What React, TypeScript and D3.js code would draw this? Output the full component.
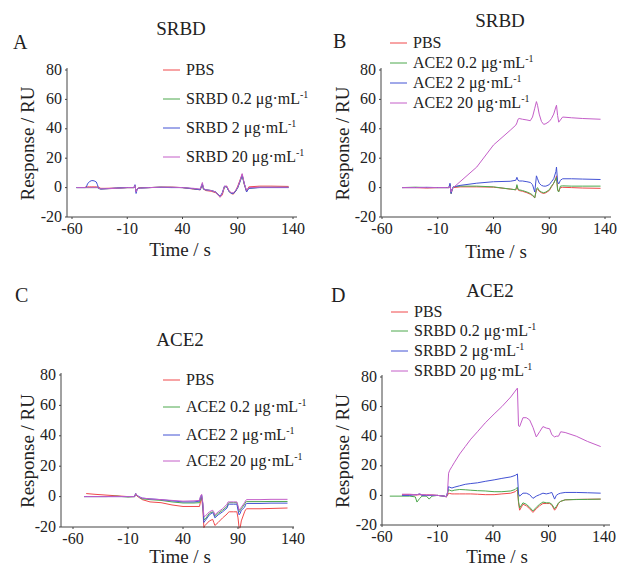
import React from 'react';
import * as d3 from 'd3';

const xTicks = [-60, -10, 40, 90, 140];
const yTicks = [-20, 0, 20, 40, 60, 80];
const colors = ['#f0484a', '#4da84d', '#4352d4', '#c45ec8'];

// A: SRBD chip, SRBD analyte
const timeA = [-56, -48, -47, -46, -44, -42, -40, -38, -37, -36, -34, -30, -20, -10, -4, -3, -2, -1, 0, 2, 10, 20, 30, 40, 50, 56, 58, 59, 61, 66, 70, 74, 76, 78, 80, 82, 84, 86, 88, 90, 92, 94, 96, 98, 100, 110, 120, 136];
const pbsA = [null, 0.5, 0.5, 0.5, 0.5, 0.5, 0.5, 0.5, 0.5, 0.3, -0.5, -0.5, -0.3, 0, 0, 1, -2.5, -1, -0.3, 0, 0, 0.3, 0.3, 0, -1, -1.5, 2, -1, -2, -2.5, -3.5, -6.5, -5, 0.5, 1, -2, -4, -4.5, -2.5, 1, 5, 9, 2, -2.5, 0.5, 1, 1, 0.8];
const lowA = [0, 0, 0, 0, 0, 0, 0, 0, 0, -0.5, -1, -0.8, -0.5, 0, 0, 1.5, -3, -1, -0.5, -0.3, 0, 0.3, 0.2, 0, -0.8, -1.3, 2.5, -1, -1.5, -2, -3, -6, -4, 0.5, 0.5, -2.5, -4, -4, -2.5, 0, 4, 8, 2, -2.5, -0.5, 0.2, 0.2, 0.2];
const midA = [0, 0, 0.3, 2.5, 4.2, 4.8, 4.6, 3.8, 2, -0.5, -1, -0.8, -0.3, 0, 0, 2, -4, -1, -0.5, -0.3, 0, 0.2, 0, 0, -0.8, -1.5, 2.5, -1, -1.5, -2, -3, -6, -3.5, 1, 0.5, -2.5, -4, -4, -2.5, 0, 4, 8.5, 2.5, -3, -0.5, 0, 0, 0];
const highA = [0, 0, 0, 0, 0, 0, 0, 0, 0, -0.3, -0.8, -0.8, -0.5, 0, 0, 1.5, -3, -1, -0.5, -0.3, 0, 0.3, 0.3, 0, -0.5, -1, 3.5, -0.5, -1.5, -2, -3, -6.5, -4, 1, 1, -2, -3.5, -3.5, -2, 0.5, 4.5, 9.5, 2.5, -2, 0, 0.3, 0.3, 0.3];

// B: SRBD chip, ACE2 analyte
const timeB = [-42, -30, -20, -10, -2, 0, 1, 2, 3, 4, 10, 25, 40, 55, 60, 61, 62, 63, 66, 70, 73, 75, 77, 78.5, 79.5, 81, 83, 85, 87, 90, 92, 94, 96, 96.5, 97.5, 98.5, 100, 102, 110, 120, 136];
const pbsB = [0, 0, -0.3, 0, 0, 0, 2, -4, -1, 0, 0.5, 0.5, 0.3, -1, -1.5, 1, -1.5, -2, -2.5, -3.5, -4.5, -5.5, -7, -1.5, -1, -2.5, -3.5, -4, -3.5, -2, 0.5, 3, 6.5, 8, -1, -2.5, 0, 0.2, 0, -0.3, -0.5];
const lowB = [0, 0.3, 0, 0, 0, 0, 2, -4, -1, 0.5, 1, 1, 0.5, -1, -1.5, 2, -1, -1.5, -2, -3, -4, -5, -7, -1, 0, -2, -3, -3.5, -3, -1.5, 1, 3, 6, 7, -2, -3, 1, 1.2, 1, 1, 1];
const midB = [0, 0, 0.2, 0, 0, 0, 3, -4, -1, 0.5, 1.5, 3, 4, 4.3, 5, 7, 5, 4.5, 4.5, 4, 3.5, 2, -3, 8, 6, 3, 1.5, 1, 1, 2, 4, 6, 11, 14, 4, 2.5, 5, 6, 6, 5.8, 5.5];
const highB = [0, 0, 0, 0, 0, 0, 1, -3, -1, 0, 4, 14, 29, 39, 42.5, 44, 46.5, 47, 46.5, 46, 45.5, 48, 54, 58.5, 56, 50, 45, 43, 43.5, 45, 47, 50, 55, 56, 49, 44.5, 46, 48, 47.5, 47, 46.5];

// C: ACE2 chip, ACE2 analyte
const timeC = [-50, -48, -40, -30, -20, -10, -4, -3, -2, 0, 3, 10, 20, 30, 40, 50, 55, 56, 57, 58, 59, 60, 64, 67, 68, 69, 72, 76, 80, 81, 82, 86, 89, 90, 91, 92, 93, 96, 97, 98, 110, 120, 135];
const pbsC = [null, 2, 1.5, 1, 0.5, 0, 0, 1.5, 0.5, -0.5, -2, -3.5, -4, -5.5, -6.5, -6.5, -6.5, -3, -1, -8, -20.5, -19, -16, -15, -17, -19, -17, -14, -11.5, -10.5, -10, -10, -10, -14, -20.5, -20.5, -16, -10, -8.5, -8, -8, -7.8, -7.5];
const lowC = [0, 0, 0, 0, 0.3, -0.3, 0, 2, 1, -0.5, -1.5, -2, -2.5, -3.5, -4.2, -4.2, -4, -1, 0, -5, -15, -15, -11, -10, -11, -13, -11, -9, -6.5, -4.5, -4, -4, -4, -7, -10, -9, -8, -5, -3.5, -3.3, -3.3, -3.2, -3.2];
const midC = [0, 0, 0, 0, 0, 0, 0, 2, 1, 0, -1, -1.5, -2, -2.8, -3.5, -3.5, -3, 0, 1, -5, -17, -16, -12, -10.5, -12, -14, -12, -10, -7.5, -5.5, -5, -5, -5, -9, -12, -11, -9, -7, -5, -4.5, -4.5, -4.3, -4.3];
const highC = [0, 0, 0, 0, 0, 0, 0, 2, 1, -0.3, -1, -1.5, -2, -2.5, -3, -2.8, -2.5, 0.5, 1.5, -4, -13, -13, -10, -9, -10, -12, -10, -8, -5, -3.5, -3.5, -3.5, -3.5, -6, -9, -8, -7, -4, -2.5, -2, -2, -1.8, -1.8];

// D: ACE2 chip, SRBD analyte
const timeD = [-53, -42, -35, -30, -28.5, -26, -24, -20, -17.5, -15, -10, -4, -2, -1, 0, 1, 3, 5, 10, 15, 20, 26, 33, 41, 48, 56, 60, 62, 63, 64, 67, 70, 73, 76, 79, 82, 85, 88, 91, 93, 95.5, 97, 99, 101, 105, 115, 125, 137];
const pbsD = [null, 0.5, 0.5, 0.3, 0.3, 0.5, 0.3, 0.3, 0.3, 0.3, 0, -0.5, -1, 0, 1.5, 1.3, 1, 1, 1, 1, 1, 0.8, 0.5, 0.5, 1, 1.5, 2.5, 4, -5, -10, -6, -7, -9, -11.5, -9, -7, -5.5, -5.5, -5.5, -6.5, -10, -8.5, -5.5, -4, -3, -2.7, -2.6, -2.5];
const lowD = [-0.5, -0.5, -0.5, -1, -4.5, -2, -0.5, -0.5, -2.5, -0.5, 0, -0.5, -1, 1, 4, 3.5, 3, 3.5, 4, 3.8, 3.5, 3.2, 3, 2.5, 2.5, 3, 4, 5.5, -4, -8.5, -5, -6, -8, -10.5, -8, -6, -4.5, -5, -5, -6, -9, -7.5, -5, -4, -3, -2.8, -2.7, -2.5];
const midD = [null, 0, 0, 0.5, 0.5, 1, 0, 0, 0, 0, 0, -0.5, -0.8, 2, 6, 5.5, 5, 5.5, 6.5, 7.5, 8, 8.5, 9.5, 10.5, 11.5, 12.5, 13.5, 14.5, 1, -0.5, 1.5, 1.5, 0.5, -2, -0.5, 0.5, 1.5, 1, 1.5, 2, -2.5, 0, 1, 1.5, 2, 2, 1.8, 1.5];
const highD = [null, 0.8, 0.8, 0.5, 0.5, 1, 0.5, 0.3, 0.3, 0.3, 0, -0.5, -1, 2, 15, 17, 19.5, 22, 28, 33, 38, 43, 49, 55, 60, 66.5, 70.5, 72.5, 47, 46.5, 52.5, 52.5, 51, 46, 39.5, 43, 46.5, 45.5, 45, 41, 39.5, 40, 40, 43, 42.5, 40, 36.5, 33];

const concs = ['0.2', '2', '20'];

const panels = [
  { letter: 'A', title: 'SRBD', analyte: 'SRBD', time: timeA, series: [pbsA, lowA, midA, highA] },
  { letter: 'B', title: 'SRBD', analyte: 'ACE2', time: timeB, series: [pbsB, lowB, midB, highB] },
  { letter: 'C', title: 'ACE2', analyte: 'ACE2', time: timeC, series: [pbsC, lowC, midC, highC] },
  { letter: 'D', title: 'ACE2', analyte: 'SRBD', time: timeD, series: [pbsD, lowD, midD, highD] },
];

// pixel layout of each panel
const layouts = [
  { x0: 72, x1: 293, axisL: 67, axisR: 297, yTop: 70, yBot: 217, letter: [13, 49], title: [181, 35], yTitleX: 27, xTitle: [180, 256], legX: 163, legY: [70, 99, 128, 157] },
  { x0: 382, x1: 605, axisL: 381, axisR: 611, yTop: 70, yBot: 217, letter: [333, 48], title: [500, 27], yTitleX: 342, xTitle: [496, 258], legX: 390, legY: [43, 63, 83, 103] },
  { x0: 73, x1: 293, axisL: 61, axisR: 294, yTop: 375, yBot: 527, letter: [15, 302], title: [180, 346], yTitleX: 27, xTitle: [180, 563], legX: 163, legY: [380, 407, 435, 461] },
  { x0: 382, x1: 604, axisL: 382, axisR: 610, yTop: 377, yBot: 525, letter: [331, 302], title: [490, 297], yTitleX: 342, xTitle: [497, 563], legX: 391, legY: [312, 331, 351, 371] },
];

const FONT = 'Liberation Serif';
const INK = '#222';
const AXIS = '#444';

// every text gets its own font attribute
const T = ({ children, ...rest }) => (
  <text fontFamily={FONT} fill={INK} {...rest}>{children}</text>
);

const Panel = ({ p, L }) => {
  const x = d3.scaleLinear().domain([-60, 140]).range([L.x0, L.x1]);
  const y = d3.scaleLinear().domain([-20, 80]).range([L.yBot, L.yTop]);

  const line = d3.line()
    .defined(d => d[1] != null)
    .x(d => x(d[0]))
    .y(d => y(d[1]));

  const labels = ['PBS', ...concs.map(c => `${p.analyte} ${c} μg·mL`)];

  return (
    <g>
      {p.series.map((vals, k) => (
        <path
          key={k}
          d={line(p.time.map((t, j) => [t, vals[j]]))}
          fill="none"
          stroke={colors[k]}
          strokeWidth={1}
          strokeLinejoin="round"
        />
      ))}

      <line x1={L.axisL} x2={L.axisR} y1={L.yBot} y2={L.yBot} stroke={AXIS} />
      <line x1={L.axisL} x2={L.axisL} y1={L.yBot} y2={L.yTop - 2} stroke={AXIS} />
      {xTicks.map(t => (
        <g key={t}>
          <line x1={x(t)} x2={x(t)} y1={L.yBot} y2={L.yBot + 2} stroke={AXIS} />
          <T x={x(t)} y={L.yBot + 17} textAnchor="middle" fontSize={16}>{t}</T>
        </g>
      ))}
      {yTicks.map(t => (
        <g key={t}>
          <line x1={L.axisL - 2} x2={L.axisL} y1={y(t)} y2={y(t)} stroke={AXIS} />
          <T x={L.axisL - 5} y={y(t) + 4.5} textAnchor="end" fontSize={16}>{t}</T>
        </g>
      ))}

      <T x={L.letter[0]} y={L.letter[1]} fontSize={20}>{p.letter}</T>
      <T x={L.title[0]} y={L.title[1]} fontSize={19} textAnchor="middle">{p.title}</T>
      <T x={L.xTitle[0]} y={L.xTitle[1]} fontSize={19} textAnchor="middle">Time / s</T>
      <T
        transform={`translate(${L.yTitleX + 6.5},${(L.yTop + L.yBot) / 2}) rotate(-90)`}
        fontSize={19}
        textAnchor="middle"
      >
        Response / RU
      </T>

      {labels.map((lab, k) => (
        <g key={lab}>
          <line x1={L.legX} x2={L.legX + 17} y1={L.legY[k]} y2={L.legY[k]} stroke={colors[k]} strokeWidth={1} />
          <T x={L.legX + 23} y={L.legY[k] + 5} fontSize={16}>
            {lab}
            {k > 0 && <tspan dy={-6} fontSize={10}>-1</tspan>}
          </T>
        </g>
      ))}
    </g>
  );
};

const App = () => (
  <svg width={621} height={568} style={{ position: 'absolute', left: 0, top: 0 }}>
    {panels.map((p, i) => (
      <Panel key={p.letter} p={p} L={layouts[i]} />
    ))}
  </svg>
);

export default App;
